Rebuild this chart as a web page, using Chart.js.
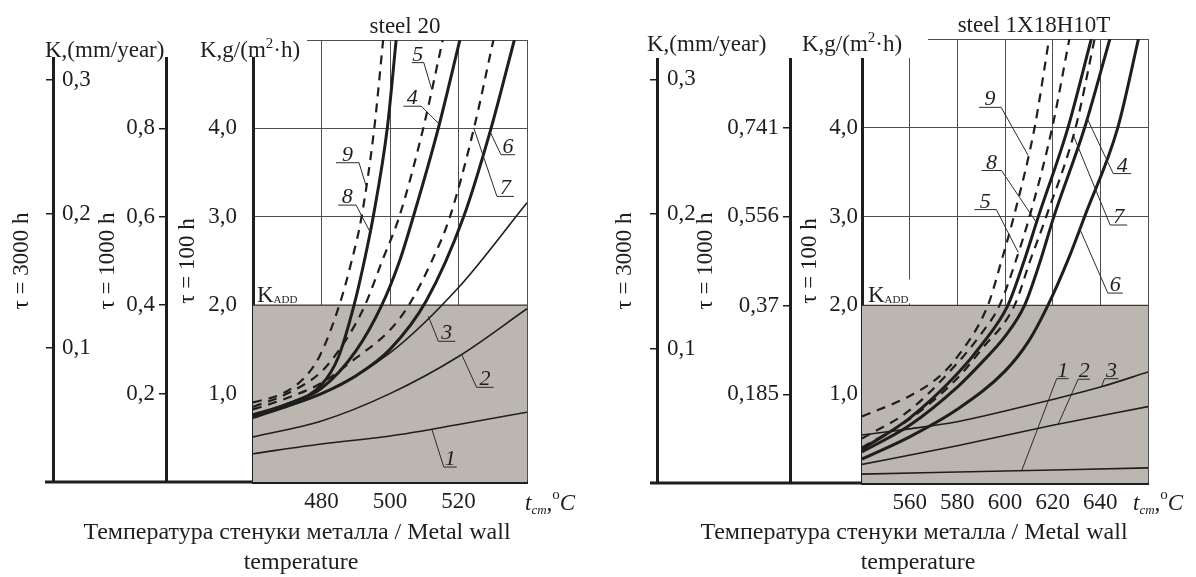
<!DOCTYPE html>
<html lang="ru">
<head>
<meta charset="utf-8">
<title>Corrosion rate vs metal wall temperature</title>
<script src="https://cdn.jsdelivr.net/npm/chart.js@4.4.1/dist/chart.umd.min.js"></script>
<style>
  html, body { margin: 0; padding: 0; background: #fff; }
  #page { position: relative; width: 1196px; height: 577px; overflow: hidden; }
  canvas { position: absolute; top: 0; }
  #steel20 { left: 0; }
  #steelX18 { left: 598px; }
</style>
</head>
<body>
<div id="page">
  <canvas id="steel20" width="598" height="577"></canvas>
  <canvas id="steelX18" width="598" height="577"></canvas>
</div>
<script>
// shared scale values
const rateMax = 5;                 // K, g/(m2*h), tau = 100 h
const rateTicks = [1, 2, 3, 4];
const kAdd = 2.0;                  // admissible rate K_ADD
const r3000Max = 0.33;             // K, mm/year, tau = 3000 h
const r3000Ticks = [0.1, 0.2, 0.3];

// steel 20
const s20Temp = [460, 540];
const s20TempTicks = [480, 500, 520];
const s20R1000Max = 1.0;
const s20R1000Ticks = [0.2, 0.4, 0.6, 0.8];
const s20Curve1 = [[460, 0.32], [480, 0.43], [500, 0.52], [520, 0.65], [540, 0.79]];
const s20Curve2 = [[460, 0.51], [480, 0.69], [500, 1.0], [520, 1.42], [540, 1.96]];
const s20Curve3 = [[460, 0.72], [480, 1.0], [500, 1.46], [520, 2.2], [540, 3.16]];
const s20Curve4 = [[460, 0.76], [470, 0.88], [480, 1.06], [490, 1.48], [497.6, 2.0], [502.8, 2.5], [506.8, 3.0], [514.1, 4.0], [520.4, 5.0]];
const s20Curve5 = [[460, 0.85], [470, 1.0], [480, 1.25], [487, 1.6], [492.7, 2.0], [497.7, 2.5], [502.7, 3.0], [509.7, 4.0], [515.4, 5.0]];
const s20Curve6 = [[460, 0.74], [470, 0.86], [480, 1.0], [490, 1.2], [500, 1.5], [510.6, 2.05], [521.5, 3.0], [529.5, 4.0], [536.3, 5.0]];
const s20Curve7 = [[460, 0.82], [470, 0.95], [480, 1.12], [490, 1.4], [500, 1.72], [505.5, 2.0], [512.2, 2.5], [517.5, 3.0], [524.5, 4.0], [530.2, 5.0]];
const s20Curve8 = [[460, 0.75], [470, 0.88], [480, 1.1], [485, 1.42], [489.5, 2.0], [492.5, 2.5], [495.1, 3.0], [499.2, 4.0], [501.8, 5.0]];
const s20Curve9 = [[460, 0.9], [468.6, 1.0], [475, 1.18], [479.4, 1.42], [485.2, 2.0], [488.8, 2.5], [491.7, 3.0], [495.4, 4.0], [498, 5.0]];

// steel 1X18H10T
const sxTemp = [540, 660];
const sxTempTicks = [560, 580, 600, 620, 640];
const sxR1000Max = 0.926;
const sxR1000Ticks = [0.185, 0.37, 0.556, 0.741];
const sxCurve1 = [[540, 0.1], [600, 0.135], [660, 0.17]];
const sxCurve2 = [[540, 0.21], [580, 0.42], [620, 0.65], [660, 0.86]];
const sxCurve3 = [[540, 0.54], [560, 0.61], [580, 0.69], [600, 0.81], [620, 0.94], [640, 1.08], [660, 1.25]];
const sxCurve4 = [[540, 0.35], [560, 0.65], [580, 1.08], [590, 1.35], [600, 1.65], [608.2, 2.0], [614.8, 2.5], [620.5, 3.0], [633.4, 4.0], [644, 5.0]];
const sxCurve5 = [[540, 0.5], [560, 0.82], [580, 1.35], [590, 1.68], [597.7, 2.0], [604.5, 2.5], [610.3, 3.0], [619.8, 4.0], [627, 5.0]];
const sxCurve6 = [[540, 0.27], [560, 0.52], [580, 0.83], [600, 1.26], [610, 1.6], [618, 2.0], [627, 2.55], [633.4, 3.0], [647.3, 4.0], [656, 5.0]];
const sxCurve7 = [[540, 0.4], [560, 0.72], [580, 1.18], [590, 1.5], [604, 2.0], [610.5, 2.5], [617.3, 3.0], [629.6, 4.0], [637.6, 5.0]];
const sxCurve8 = [[540, 0.38], [560, 0.73], [580, 1.23], [590, 1.55], [601.2, 2.0], [608, 2.5], [614, 3.0], [626.4, 4.0], [636.2, 5.0]];
const sxCurve9 = [[540, 0.75], [560, 0.98], [572, 1.19], [580, 1.42], [592.8, 2.0], [598.5, 2.5], [603.7, 3.0], [612.4, 4.0], [618.5, 5.0]];

const serif = "'Liberation Serif', 'Times New Roman', serif";
const ink = '#1e1e1e';
const gridInk = '#4e4e4e';
const addFill = '#bbb7b0';
const caption = ['Температура стенуки металла / Metal wall', 'temperature'];

function valueAt(pts, t) {
  for (let i = 1; i < pts.length; i++) {
    if (t <= pts[i][0]) {
      const [x0, y0] = pts[i - 1];
      const [x1, y1] = pts[i];
      return y0 + (y1 - y0) * (t - x0) / (x1 - x0);
    }
  }
  return pts[pts.length - 1][1];
}

// 1-3 thin, 4/6/8 heavy, 5/7/9 dashed
function curveStyle(n) {
  if (n <= 3) return { w: 1.6, dash: [] };
  if (n % 2 === 0) return { w: 3, dash: [] };
  return { w: 2.2, dash: [9, 7] };
}

function drawRuns(ctx, x, y, runs) {
  ctx.textAlign = 'left';
  ctx.textBaseline = 'alphabetic';
  for (const r of runs) {
    ctx.font = (r.italic ? 'italic ' : '') + r.size + 'px ' + serif;
    ctx.fillText(r.text, x, y + (r.dy || 0));
    x += ctx.measureText(r.text).width;
  }
  return x;
}

const panelDecor = {
  id: 'panelDecor',
  afterDraw(chart, args, o) {
    const ctx = chart.ctx;
    const area = chart.chartArea;
    const xs = chart.scales.x;
    const ys = chart.scales.y;
    ctx.save();
    ctx.fillStyle = ink;
    ctx.strokeStyle = ink;

    // base line runs on under the extra axes
    ctx.lineWidth = 3;
    ctx.beginPath();
    ctx.moveTo(o.baseFrom, area.bottom);
    ctx.lineTo(area.left, area.bottom);
    ctx.stroke();

    // white field behind the unit headings
    ctx.fillStyle = '#fff';
    ctx.fillRect(0, 0, o.maskRight, o.maskBottom);
    ctx.fillStyle = ink;
    drawRuns(ctx, o.kmmX, o.headY, [{ text: 'K,(mm/year)', size: 23 }]);
    drawRuns(ctx, o.kgX, o.headY, [
      { text: 'K,g/(m', size: 23 },
      { text: '2', size: 15, dy: -9 },
      { text: '·h)', size: 23 }
    ]);
    ctx.font = '23px ' + serif;
    ctx.textAlign = 'center';
    ctx.fillText(o.title, o.titleX, o.titleY);

    // K_ADD label on a white patch
    const yAdd = ys.getPixelForValue(kAdd);
    ctx.fillStyle = '#fff';
    ctx.fillRect(area.left + 2, yAdd - 26, o.addW, 24);
    ctx.fillStyle = ink;
    drawRuns(ctx, area.left + o.addDx, yAdd - 3, [
      { text: 'K', size: 23 },
      { text: 'ADD', size: 11, dy: 1 }
    ]);

    // curve numbers on shelves with leaders
    ctx.lineWidth = 1;
    ctx.strokeStyle = '#2a2a2a';
    for (const [text, n, t, dx, dy, dir, w] of o.marks) {
      const pts = o.curves.find(c => c[0] === n)[1];
      const px = xs.getPixelForValue(t);
      const py = ys.getPixelForValue(valueAt(pts, t));
      const ex = px + dx, ey = py + dy;
      const fx = ex + dir * w;
      ctx.beginPath();
      ctx.moveTo(px, py);
      ctx.lineTo(ex, ey);
      ctx.lineTo(fx, ey);
      ctx.stroke();
      ctx.font = 'italic 22px ' + serif;
      ctx.textAlign = 'center';
      ctx.fillText(text, (ex + fx) / 2, ey - 2);
    }

    // axis unit after the last temperature tick
    drawRuns(ctx, area.right + o.unitDx, 510, [
      { text: 't', size: 23, italic: true },
      { text: 'cm', size: 13, italic: true, dy: 4 },
      { text: ',', size: 23 },
      { text: 'o', size: 15, dy: -11 },
      { text: 'C', size: 23, italic: true }
    ]);

    // caption
    ctx.font = '24px ' + serif;
    ctx.textAlign = 'center';
    ctx.fillText(caption[0], o.captionX, 539);
    ctx.fillText(caption[1], o.captionX + 4, 569);
    ctx.restore();
  }
};

function buildPanel(canvasId, p) {
  const datasets = [{
    label: 'K_ADD',
    data: [{ x: p.temp[0], y: kAdd }, { x: p.temp[1], y: kAdd }],
    fill: 'origin',
    backgroundColor: addFill,
    borderColor: '#3a3a3a',
    borderWidth: 1.2,
    pointRadius: 0,
    order: 10
  }];
  p.curves.forEach(([n, pts]) => {
    const st = curveStyle(n);
    datasets.push({
      label: 'curve ' + n,
      data: pts.map(([x, y]) => ({ x, y })),
      borderColor: ink,
      borderWidth: st.w,
      borderDash: st.dash,
      pointRadius: 0,
      fill: false,
      cubicInterpolationMode: 'monotone',
      order: 0
    });
  });

  const tickFont = { family: serif, size: 23 };
  const titleFont = { family: serif, size: 23 };
  const dec = v => String(v).replace('.', ',');

  new Chart(document.getElementById(canvasId), {
    type: 'line',
    data: { datasets },
    plugins: [panelDecor],
    options: {
      responsive: false,
      animation: false,
      events: [],
      layout: { padding: { left: 0, right: p.padRight, top: p.top, bottom: 0 } },
      plugins: {
        legend: { display: false },
        tooltip: { enabled: false },
        panelDecor: p.decor
      },
      scales: {
        x: {
          type: 'linear',
          min: p.temp[0],
          max: p.temp[1],
          z: 1,
          ticks: {
            stepSize: 20,
            autoSkip: false,
            maxRotation: 0,
            padding: 6,
            font: tickFont,
            color: ink,
            callback: v => p.tempTicks.includes(v) ? String(v) : ''
          },
          grid: { color: gridInk, lineWidth: 1, drawTicks: false },
          border: { color: ink, width: 3 },
          afterFit: s => { s.height = 577 - p.bottom; }
        },
        y: {
          position: 'left',
          weight: 1,
          min: 0,
          max: rateMax,
          z: 1,
          ticks: {
            stepSize: 1,
            autoSkip: false,
            padding: p.mainPad,
            font: tickFont,
            color: ink,
            callback: v => rateTicks.includes(v) ? v.toFixed(1).replace('.', ',') : ''
          },
          grid: { color: gridInk, lineWidth: 1, drawTicks: false },
          border: { color: ink, width: 3 },
          title: { display: true, text: 'τ = 100 h', font: titleFont, color: ink, padding: { top: p.titlePad[2], bottom: 0 } },
          afterFit: s => { s.width = p.widths[2]; }
        },
        y1000: {
          position: 'left',
          weight: 2,
          min: 0,
          max: p.r1000Max,
          afterBuildTicks: s => { s.ticks = p.r1000Ticks.map(v => ({ value: v })); },
          ticks: { autoSkip: false, padding: 4, font: tickFont, color: ink, callback: dec },
          grid: { drawOnChartArea: false, drawTicks: true, tickLength: 7, color: ink, lineWidth: 1.5 },
          border: { color: ink, width: 3 },
          title: { display: true, text: 'τ = 1000 h', font: titleFont, color: ink, padding: { top: p.titlePad[1], bottom: 0 } },
          afterFit: s => { s.width = p.widths[1]; }
        },
        y3000: {
          position: 'left',
          weight: 3,
          min: 0,
          max: r3000Max,
          afterBuildTicks: s => { s.ticks = r3000Ticks.map(v => ({ value: v })); },
          ticks: { autoSkip: false, mirror: true, padding: p.r3000Pad, font: tickFont, color: ink, callback: dec },
          grid: { drawOnChartArea: false, drawTicks: true, tickLength: 7, color: ink, lineWidth: 1.5 },
          border: { color: ink, width: 3 },
          title: { display: true, text: 'τ = 3000 h', font: titleFont, color: ink, padding: { top: p.titlePad[0], bottom: 0 } },
          afterFit: s => { s.width = p.widths[0]; }
        }
      }
    }
  });
}

const s20CurveList = [[1, s20Curve1], [2, s20Curve2], [3, s20Curve3], [4, s20Curve4], [5, s20Curve5],
  [6, s20Curve6], [7, s20Curve7], [8, s20Curve8], [9, s20Curve9]];
const sxCurveList = [[1, sxCurve1], [2, sxCurve2], [3, sxCurve3], [4, sxCurve4], [5, sxCurve5],
  [6, sxCurve6], [7, sxCurve7], [8, sxCurve8], [9, sxCurve9]];

buildPanel('steel20', {
  temp: s20Temp, tempTicks: s20TempTicks,
  r1000Max: s20R1000Max, r1000Ticks: s20R1000Ticks,
  curves: s20CurveList,
  widths: [53, 113, 87], padRight: 71, top: 40, bottom: 482,
  titlePad: [8, 41, 8], mainPad: 16, r3000Pad: 9,
  decor: {
    curves: s20CurveList,
    baseFrom: 45, maskRight: 307, maskBottom: 57,
    headY: 57, kmmX: 45, kgX: 200,
    title: 'steel 20', titleX: 405, titleY: 33,
    addW: 56, addDx: 4, unitDx: -2, captionX: 297,
    marks: [
      ['9', 9, 493.0, -7, -23, -1, 23],
      ['8', 8, 494.2, -14, -27, -1, 18],
      ['5', 5, 512.2, -8, -27, -1, 12],
      ['4', 4, 514.4, -18, -18, -1, 18],
      ['6', 6, 529.2, 11, 23, 1, 14],
      ['7', 7, 524.5, 23, 68, 1, 17],
      ['3', 3, 511.2, 10, 25, 1, 17],
      ['2', 2, 520.9, 15, 33, 1, 17],
      ['1', 1, 512.2, 12, 38, 1, 13]
    ]
  }
});

buildPanel('steelX18', {
  temp: sxTemp, tempTicks: sxTempTicks,
  r1000Max: sxR1000Max, r1000Ticks: sxR1000Ticks,
  curves: sxCurveList,
  widths: [59, 133, 72], padRight: 48, top: 39, bottom: 483,
  titlePad: [13, 35, 6], mainPad: 4, r3000Pad: 10,
  decor: {
    curves: sxCurveList,
    baseFrom: 52, maskRight: 330, maskBottom: 58,
    headY: 51, kmmX: 49, kgX: 204,
    title: 'steel 1X18H10T', titleX: 436, titleY: 32,
    addW: 58, addDx: 6, unitDx: -15, captionX: 316,
    marks: [
      ['9', 9, 609.7, -27, -48, -1, 22],
      ['8', 8, 613.2, -35, -52, -1, 20],
      ['5', 5, 605.6, -22, -43, -1, 22],
      ['4', 4, 634.5, 26, 55, 1, 18],
      ['7', 7, 628.6, 37, 90, 1, 17],
      ['6', 6, 631.4, 28, 64, 1, 15],
      ['1', 1, 607.0, 35, -92, 1, 12],
      ['2', 2, 622.3, 20, -45, 1, 12],
      ['3', 3, 640.5, 3, -8, 1, 14]
    ]
  }
});
</script>
</body>
</html>
